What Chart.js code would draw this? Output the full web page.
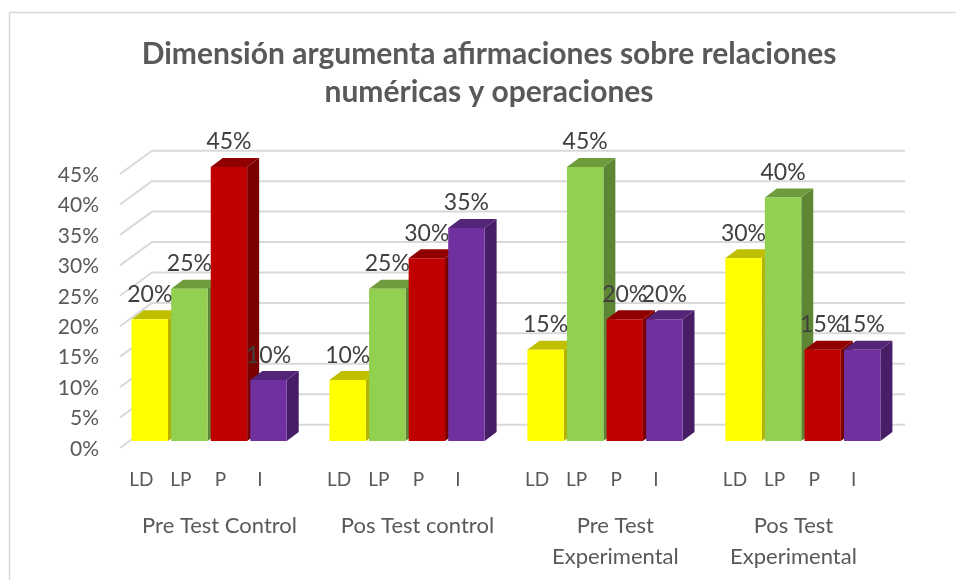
<!DOCTYPE html>
<html><head><meta charset="utf-8">
<style>html,body{margin:0;padding:0;background:#fff}canvas{display:block}</style>
<script src="https://cdn.jsdelivr.net/npm/chart.js@4"></script></head>
<body><div style="width:956px;height:580px"><canvas id="c" width="956" height="580"></canvas></div>
<script>
const titleLines = ['Dimensión argumenta afirmaciones sobre relaciones','numéricas y operaciones'];
const barLabels = ['LD','LP','P','I','','LD','LP','P','I','','LD','LP','P','I','','LD','LP','P','I'];
const barValues = [20,25,45,10,null,10,25,30,35,null,15,45,20,20,null,30,40,15,15];
const groupNames = {4:'Pre Test Control',14:'Pos Test control',24:['Pre Test','Experimental'],33:['Pos Test','Experimental']};
const groupLabels = Array.from({length:38},(_,i)=>groupNames[i]||'');
const yTicks = [0,5,10,15,20,25,30,35,40,45];
const frontColors = {LD:'#FFFF00',LP:'#92D050',P:'#C00000',I:'#7030A0'};
const topColors = {LD:'#BFBF00',LP:'#6E9C3C',P:'#900000',I:'#542478'};
const sideColors = {LD:'#B3B300',LP:'#5E8533',P:'#7A0000',I:'#471E66'};
const FONT = 'Lato, Carlito, Calibri, sans-serif';
const DX = 12, DY = 9;

const depth = {
  id:'depth',
  beforeDraw(chart){
    const {ctx} = chart;
    ctx.save();
    ctx.strokeStyle='#D9D9D9'; ctx.lineWidth=1.5;
    ctx.beginPath();ctx.moveTo(9.5,580);ctx.lineTo(9.5,12.5);ctx.lineTo(956,12.5);ctx.stroke();
    ctx.restore();
  },
  beforeDatasetsDraw(chart){
    const {ctx,chartArea:a,scales:{y}} = chart;
    ctx.save();
    ctx.strokeStyle='#D9D9D9'; ctx.lineWidth=2; ctx.lineJoin='round';
    yTicks.forEach(v=>{
      const p=y.getPixelForValue(v);
      ctx.beginPath();
      ctx.moveTo(a.left-10,p+7);
      ctx.lineTo(a.left+22,p-16.3);
      ctx.lineTo(a.right+23,p-16.3);
      ctx.stroke();
    });
    chart.getDatasetMeta(0).data.forEach((b,i)=>{
      const v=barValues[i]; if(v==null) return;
      const k=barLabels[i], w=b.width/2, l=b.x-w, r=b.x+w, t=b.y, base=b.base;
      ctx.fillStyle=sideColors[k];
      ctx.beginPath();ctx.moveTo(r,t);ctx.lineTo(r+DX,t-DY);ctx.lineTo(r+DX,base-DY);ctx.lineTo(r,base);ctx.closePath();ctx.fill();
      ctx.fillStyle=topColors[k];
      ctx.beginPath();ctx.moveTo(l,t);ctx.lineTo(l+DX,t-DY);ctx.lineTo(r+DX,t-DY);ctx.lineTo(r,t);ctx.closePath();ctx.fill();
    });
    ctx.restore();
  },
  afterDatasetsDraw(chart){
    const {ctx}=chart;
    ctx.save();
    ctx.font='23px '+FONT; ctx.fillStyle='#404040'; ctx.textAlign='center'; ctx.textBaseline='middle';
    chart.getDatasetMeta(0).data.forEach((b,i)=>{
      const v=barValues[i]; if(v==null) return;
      ctx.fillText(v+'%',b.x,b.y-25);
    });
    ctx.restore();
  }
};

new Chart(document.getElementById('c'),{
  type:'bar',
  data:{labels:barLabels,datasets:[{data:barValues,
    backgroundColor:barLabels.map(k=>frontColors[k]||'#fff'),
    barPercentage:0.92,categoryPercentage:1}]},
  plugins:[depth],
  options:{
    responsive:false,animation:false,
    layout:{padding:{left:22,right:0,top:0,bottom:0}},
    plugins:{legend:{display:false},tooltip:{enabled:false},
      title:{display:true,text:titleLines,color:'#595959',
        font:{family:FONT,size:30,weight:'bold',lineHeight:1.267},
        padding:{top:35.5,bottom:55.5}}},
    scales:{
      x:{offset:true,grid:{display:false},border:{display:false},
        afterFit(s){s.height=60;},
        ticks:{autoSkip:false,maxRotation:0,color:'#595959',font:{family:FONT,size:19},padding:19,labelOffset:-8.5}},
      x2:{type:'category',labels:groupLabels,position:'bottom',offset:true,grid:{display:false},border:{display:false},
        afterFit(s){s.height=79;},
        ticks:{autoSkip:false,maxRotation:0,color:'#595959',font:{family:FONT,size:22,lineHeight:1.38},padding:2,labelOffset:0.5}},
      y:{min:0,max:45,grid:{display:false},border:{display:false},
        afterFit(s){s.width=108;},
        ticks:{stepSize:5,color:'#595959',font:{family:FONT,size:21},padding:23,labelOffset:8,callback:v=>v+'%'}},
      yEnd:{position:'right',min:0,max:45,grid:{display:false},border:{display:false},
        afterFit(s){s.width=74;},
        ticks:{display:false}}
    }
  }
});
</script></body></html>
